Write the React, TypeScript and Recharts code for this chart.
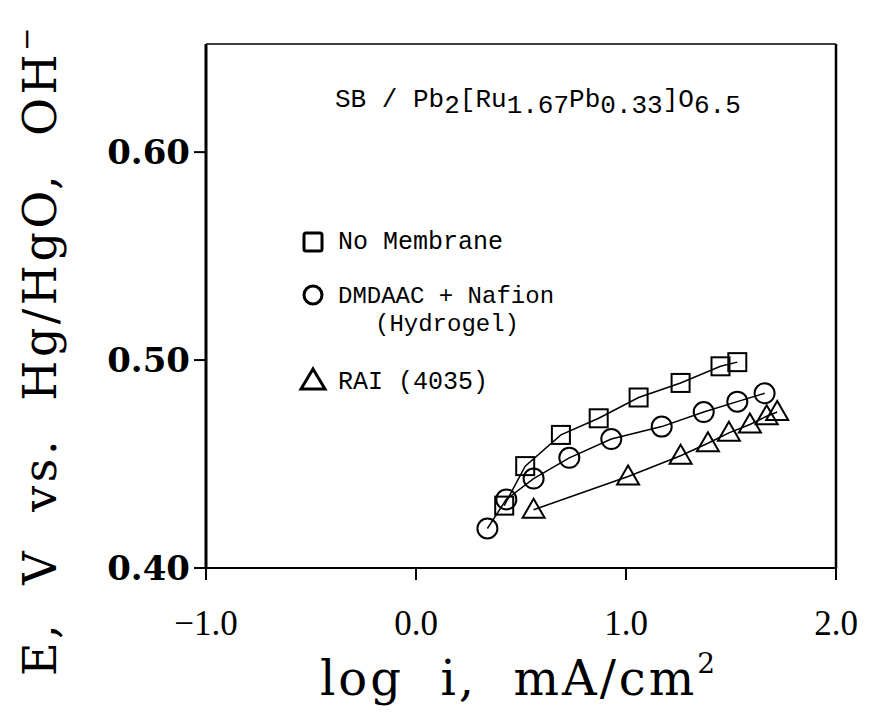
import { ScatterChart, Scatter, XAxis, YAxis, ReferenceLine } from "recharts";

// log i (mA/cm2) and E (V vs Hg/HgO)
const noMembraneLogI = [0.42, 0.52, 0.69, 0.87, 1.06, 1.26, 1.45, 1.53];
const noMembraneE = [0.43, 0.449, 0.464, 0.472, 0.482, 0.489, 0.497, 0.499];

const hydrogelLogI = [0.34, 0.43, 0.56, 0.73, 0.93, 1.17, 1.37, 1.53, 1.66];
const hydrogelE = [0.419, 0.433, 0.443, 0.453, 0.462, 0.468, 0.475, 0.48, 0.484];

const raiLogI = [0.56, 1.01, 1.26, 1.39, 1.49, 1.59, 1.67, 1.72];
const raiE = [0.428, 0.444, 0.454, 0.46, 0.465, 0.469, 0.473, 0.475];

const xTicks = [-1, 0, 1, 2];
const yTicks = [0.4, 0.5, 0.6];
const yTop = 0.652;

const legendNames = ["No Membrane", "DMDAAC + Nafion", "(Hydrogel)", "RAI (4035)"];

const toPoints = (xs: number[], ys: number[]) => xs.map((x, i) => ({ x, y: ys[i] }));

const SERIF = "'DejaVu Serif', serif";
const MONO = "'Liberation Mono', monospace";

function SquareMark(props: any) {
  const { cx, cy } = props;
  return <rect x={cx - 9} y={cy - 9} width={18} height={18} fill="none" stroke="#000" strokeWidth={2} />;
}

function CircleMark(props: any) {
  const { cx, cy } = props;
  return <circle cx={cx} cy={cy} r={10} fill="none" stroke="#000" strokeWidth={2} />;
}

function TriangleMark(props: any) {
  const { cx, cy } = props;
  return (
    <polygon
      points={`${cx},${cy - 11} ${cx + 11},${cy + 8} ${cx - 11},${cy + 8}`}
      fill="none"
      stroke="#000"
      strokeWidth={2}
    />
  );
}

function YTitle(props: any) {
  const { viewBox } = props;
  const cx = viewBox.x - 60;
  const cy = viewBox.y + viewBox.height / 2 + 44;
  return (
    <text
      x={cx}
      y={cy}
      transform={`rotate(-90, ${cx}, ${cy})`}
      textAnchor="middle"
      fontFamily={SERIF}
      fontSize={46}
      letterSpacing={3.5}
      fill="#000"
      style={{ whiteSpace: "pre" }}
    >
      E,  V  vs.  Hg/HgO,  OH<tspan dy={-20} fontSize={28}>−</tspan>
    </text>
  );
}

function XTitle(props: any) {
  const { viewBox } = props;
  const cx = viewBox.x + viewBox.width / 2 - 2;
  const cy = viewBox.y + 127;
  return (
    <text
      x={cx}
      y={cy}
      textAnchor="middle"
      fontFamily={SERIF}
      fontSize={48}
      letterSpacing={3}
      fill="#000"
      style={{ whiteSpace: "pre" }}
    >
      log  i,  mA/cm<tspan dy={-22} fontSize={28}>2</tspan>
    </text>
  );
}

function Overlay() {
  return (
    <svg
      width={869}
      height={713}
      style={{ position: "absolute", left: 0, top: 0, pointerEvents: "none" }}
    >
      <text x={335} y={107} fontFamily={MONO} fontSize={26} fill="#000" style={{ whiteSpace: "pre" }}>
        SB / Pb<tspan dy={6}>2</tspan>
        <tspan dy={-6}>[Ru</tspan>
        <tspan dy={6}>1.67</tspan>
        <tspan dy={-6}>Pb</tspan>
        <tspan dy={6}>0.33</tspan>
        <tspan dy={-6}>]O</tspan>
        <tspan dy={6}>6.5</tspan>
      </text>
      <rect x={304} y={233} width={18} height={18} fill="none" stroke="#000" strokeWidth={3} rx={2} />
      <text x={338} y={249} fontFamily={MONO} fontSize={25} fill="#000">{legendNames[0]}</text>
      <circle cx={313} cy={295} r={9} fill="none" stroke="#000" strokeWidth={3} />
      <text x={338} y={303} fontFamily={MONO} fontSize={24} fill="#000">{legendNames[1]}</text>
      <text x={375} y={331} fontFamily={MONO} fontSize={24} fill="#000">{legendNames[2]}</text>
      <polygon points="313,369 325,389 301,389" fill="none" stroke="#000" strokeWidth={3} />
      <text x={338} y={389} fontFamily={MONO} fontSize={25} fill="#000">{legendNames[3]}</text>
    </svg>
  );
}

export default function App() {
  return (
    <div style={{ position: "absolute", left: 0, top: 0, width: 869, height: 713, background: "#fff" }}>
      <ScatterChart width={869} height={713} margin={{ top: 44, right: 33, bottom: 85, left: 116 }}>
        <XAxis
          type="number"
          dataKey="x"
          domain={[-1, 2]}
          ticks={xTicks}
          allowDataOverflow
          height={60}
          tickSize={12}
          tickMargin={30}
          tickFormatter={(v: number) => v.toFixed(1).replace("-", "−")}
          tick={{ fontFamily: "'Liberation Serif', serif", fontSize: 35, fill: "#000" }}
          axisLine={{ stroke: "#000", strokeWidth: 2 }}
          tickLine={{ stroke: "#000", strokeWidth: 2 }}
          label={<XTitle />}
        />
        <YAxis
          type="number"
          dataKey="y"
          domain={[0.4, yTop]}
          ticks={yTicks}
          allowDataOverflow
          width={90}
          tickSize={12}
          tickMargin={4}
          tickFormatter={(v: number) => v.toFixed(2)}
          tick={{ fontFamily: SERIF, fontWeight: "bold", fontSize: 34, fill: "#000" }}
          axisLine={{ stroke: "#000", strokeWidth: 3 }}
          tickLine={{ stroke: "#000", strokeWidth: 2 }}
          label={<YTitle />}
        />
        <ReferenceLine y={yTop} stroke="#000" strokeWidth={1.5} />
        <ReferenceLine x={2} stroke="#000" strokeWidth={2.5} />
        <Scatter
          data={toPoints(noMembraneLogI, noMembraneE)}
          shape={<SquareMark />}
          line={{ stroke: "#000", strokeWidth: 1.5 }}
          isAnimationActive={false}
        />
        <Scatter
          data={toPoints(hydrogelLogI, hydrogelE)}
          shape={<CircleMark />}
          line={{ stroke: "#000", strokeWidth: 1.5 }}
          isAnimationActive={false}
        />
        <Scatter
          data={toPoints(raiLogI, raiE)}
          shape={<TriangleMark />}
          line={{ stroke: "#000", strokeWidth: 1.5 }}
          isAnimationActive={false}
        />
      </ScatterChart>
      <Overlay />
    </div>
  );
}
